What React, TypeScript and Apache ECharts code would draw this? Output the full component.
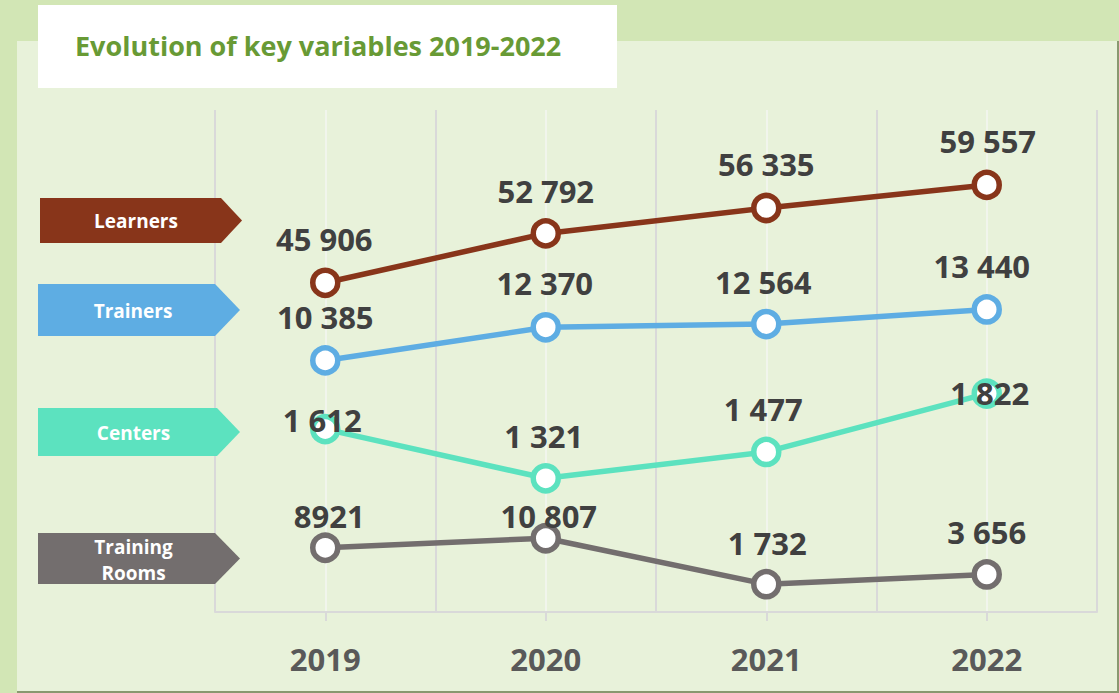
import React, { useEffect, useRef } from "react";
import * as echarts from "echarts";

const years = ["2019", "2020", "2021", "2022"];
const learners = [45906, 52792, 56335, 59557];
const trainers = [10385, 12370, 12564, 13440];
const centers = [1612, 1321, 1477, 1822];
const trainingRooms = [8921, 10807, 1732, 3656];
const seriesValues = [learners, trainers, centers, trainingRooms];
const seriesNames = ["Learners", "Trainers", "Centers", "Training Rooms"];
const tagTexts = ["Learners", "Trainers", "Centers", "Training\nRooms"];
const titleText = "Evolution of key variables 2019-2022";

// styling / layout (not data)
const seriesColors = ["#88351A", "#5EADE3", "#5CE2BF", "#736E6E"];
const axisRanges = [
  [0, 70000],
  [-4700, 25400],
  [530, 3500],
  [-3750, 95300],
];
const labelOffsets = [
  [[-1, -43.5], [0, -42.5], [0, -44], [1, -44]],
  [[0, -43.5], [-1, -44], [-3, -42], [-5, -43]],
  [[-3, -9], [-2, -42], [-3, -43], [3, -1]],
  [[4, -32], [3, -22.5], [1, -41.5], [0, -42]],
];
const ungroupedLabel = [[], [], [], [0]];
const tagShapes = [
  { pts: [[40, 198], [221, 198], [242, 220.5], [221, 243], [40, 243]], cx: 136, cy: 221 },
  { pts: [[38, 284], [215, 284], [240, 310], [215, 336], [38, 336]], cx: 133, cy: 311 },
  { pts: [[38, 408], [217, 408], [240, 432], [217, 456], [38, 456]], cx: 133.5, cy: 433 },
  { pts: [[38, 533], [215, 533], [240, 558.5], [215, 584], [38, 584]], cx: 133.5, cy: 560 },
];

const FONT = "'Open Sans', 'Noto Sans', sans-serif";

function fmt(v: number, plain: boolean) {
  const s = String(v);
  return plain ? s : s.replace(/\B(?=(\d{3})+(?!\d))/g, " ");
}

export default function App() {
  const ref = useRef<HTMLDivElement>(null);
  useEffect(() => {
    document.body.style.margin = "0";
    if (!ref.current) return;
    const chart = echarts.init(ref.current, undefined, { renderer: "svg" });

    const series = seriesValues.map((vals, si) => ({
      name: seriesNames[si],
      type: "line",
      xAxisIndex: 0,
      yAxisIndex: si,
      silent: true,
      clip: false,
      symbol: "circle",
      symbolSize: 25,
      lineStyle: { color: seriesColors[si], width: 5.5 },
      itemStyle: { color: "#ffffff", borderColor: seriesColors[si], borderWidth: 5.5 },
      label: {
        show: true,
        position: "inside",
        fontFamily: FONT,
        fontWeight: "bold",
        fontSize: 31,
        color: "#404040",
      },
      data: vals.map((v, i) => ({
        value: v,
        label: {
          offset: labelOffsets[si][i],
          formatter: fmt(v, ungroupedLabel[si].includes(i)),
        },
      })),
      z: 3 + si,
    }));

    const graphics: any[] = [
      { type: "rect", z: -20, shape: { x: 17, y: 41, width: 1102, height: 652 }, style: { fill: "#8A9870" } },
      { type: "rect", z: -19, shape: { x: 17, y: 41, width: 1100, height: 650 }, style: { fill: "#E8F2DA" } },
      { type: "rect", z: -18, shape: { x: 38, y: 5, width: 579, height: 83 }, style: { fill: "#ffffff" } },
      {
        type: "text",
        z: 10,
        x: 75,
        y: 45,
        style: {
          text: titleText,
          fill: "#689A35",
          font: `bold 27px ${FONT}`,
          verticalAlign: "middle",
          align: "left",
        },
      },
    ];
    tagShapes.forEach((t, i) => {
      graphics.push({
        type: "polygon",
        z: 10,
        shape: { points: t.pts },
        style: { fill: seriesColors[i] },
      });
      graphics.push({
        type: "text",
        z: 11,
        x: t.cx,
        y: t.cy,
        style: {
          text: tagTexts[i],
          fill: "#ffffff",
          font: `bold 19px ${FONT}`,
          align: "center",
          verticalAlign: "middle",
          lineHeight: 26,
        },
      });
    });

    chart.setOption({
      animation: false,
      backgroundColor: "#D2E6B5",
      grid: { left: 215, right: 22, top: 110, bottom: 81, containLabel: false },
      xAxis: [
        {
          type: "category",
          data: years,
          boundaryGap: true,
          axisLine: { show: true, lineStyle: { color: "#D9D9D9", width: 2 } },
          axisTick: { show: true, alignWithLabel: true, length: 9, lineStyle: { color: "#D9D9D9", width: 2 } },
          splitLine: { show: false },
          axisLabel: {
            margin: 31,
            fontFamily: FONT,
            fontWeight: "bold",
            fontSize: 31,
            color: "#595959",
          },
          z: 1,
        },
        {
          type: "value",
          min: 0,
          max: 8,
          interval: 1,
          show: true,
          position: "top",
          axisLine: { show: false },
          axisTick: { show: false },
          axisLabel: { show: false },
          splitLine: { show: true, lineStyle: { color: ["#D9D9D9", "#F1F5EC"], width: 2 } },
          z: 0,
        },
      ],
      yAxis: axisRanges.map((r) => ({
        type: "value",
        show: false,
        min: r[0],
        max: r[1],
        splitLine: { show: false },
      })),
      graphic: graphics,
      series,
    });
    return () => chart.dispose();
  }, []);
  return <div ref={ref} style={{ width: 1119, height: 693 }} />;
}
